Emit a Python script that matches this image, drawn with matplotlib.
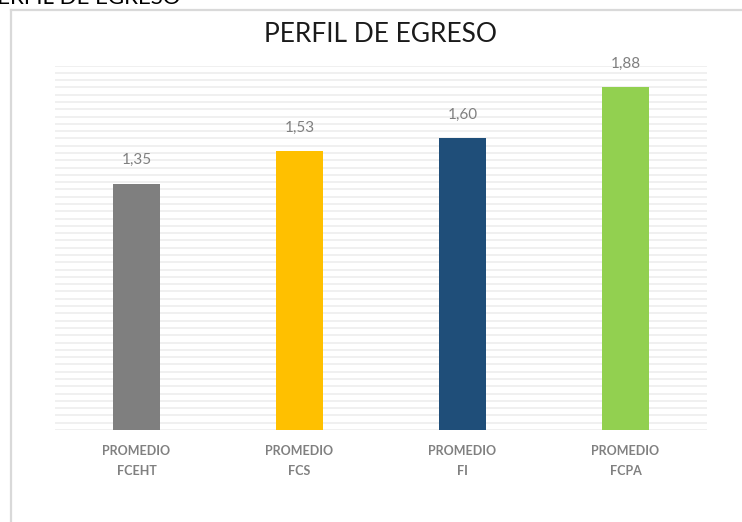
import matplotlib
matplotlib.use("Agg")
import matplotlib.pyplot as plt
import numpy as np
from matplotlib.lines import Line2D

plt.rcParams['font.family'] = ['Lato', 'DejaVu Sans']

# data
categories = ['PROMEDIO\nFCEHT', 'PROMEDIO\nFCS', 'PROMEDIO\nFI', 'PROMEDIO\nFCPA']
values = [1.35, 1.53, 1.60, 1.88]
value_labels = ['1,35', '1,53', '1,60', '1,88']
colors = ['#7f7f7f', '#ffc000', '#1f4e79', '#92d050']

W, H = 742, 522
fig = plt.figure(figsize=(W / 100, H / 100), dpi=100)
ax = fig.add_axes([55 / W, 1 - 430 / H, 652 / W, (430 - 65.5) / H])

x = np.arange(len(categories))
ax.bar(x, values, width=0.29, color=colors, zorder=3)

ax.set_xlim(-0.5, len(categories) - 0.5)
ax.set_ylim(0, 2.0)
for g in np.arange(0, 2.0001, 0.04):
    ax.axhline(g, color='#efefef', lw=1.3, zorder=1)

for xi, v, lab in zip(x, values, value_labels):
    ax.annotate(lab, (xi, v), xytext=(0, 12), textcoords='offset points',
                ha='center', va='bottom', fontsize=11, color='#808080')

ax.set_xticks(x)
ax.set_xticklabels(categories, fontsize=9, fontweight='bold', color='#808080',
                   linespacing=1.75)
ax.tick_params(axis='x', length=0, pad=11)
ax.set_yticks([])
for s in ax.spines.values():
    s.set_visible(False)

fig.text(381 / W, 1 - 35 / H, 'PERFIL DE EGRESO', ha='center', va='center',
         fontsize=19, color='#1a1a1a')

# clipped title from the page above
fig.text(-16 / W, 1 - 4 / H, 'PERFIL DE EGRESO', ha='left',
         va='baseline', fontsize=16, color='#000000')

# chart border
fig.add_artist(Line2D([11 / W, 11 / W], [1 - 10 / H, 0], transform=fig.transFigure,
                      color='#d9d9d9', lw=1.6))
fig.add_artist(Line2D([11 / W, 1], [1 - 10 / H, 1 - 10 / H], transform=fig.transFigure,
                      color='#d9d9d9', lw=1.6))

fig.savefig('out.png', dpi=100)
